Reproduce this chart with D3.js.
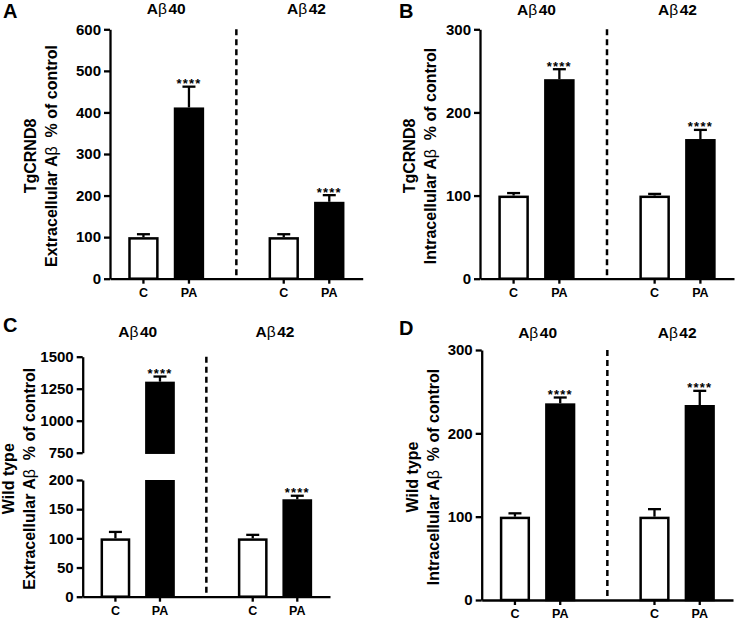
<!DOCTYPE html>
<html>
<head>
<meta charset="utf-8">
<script src="https://cdn.jsdelivr.net/npm/d3@7"></script>
<style>
  body { margin: 0; background: #fff; }
  svg { display: block; font-family: "Liberation Sans", Arial, sans-serif; }
  .tick line, .domain { stroke: #000; stroke-width: 2.3; }
</style>
</head>
<body>
<svg id="chart" width="735" height="623"></svg>
<script>
// Four bar panels (A-D): % of control for C vs PA, Abeta40 and Abeta42.

const groups = ["Aβ40", "Aβ42"];
const conditions = ["C", "PA"];

// means and SEM, order: 40-C, 40-PA, 42-C, 42-PA
const meansA = [100, 412, 100, 185];
const errorsA = [7, 50, 7, 16];
const meansB = [100, 240, 100, 168];
const errorsB = [3, 12, 2, 11];
const meansC = [100, 1305, 100, 167];
const errorsC = [11, 40, 6, 6];
const meansD = [100, 236, 100, 234];
const errorsD = [4, 7, 9, 17];

const ticksA = [0, 100, 200, 300, 400, 500, 600];
const ticksB = [0, 100, 200, 300];
const ticksCLow = [0, 50, 100, 150, 200];
const ticksCHigh = [750, 1000, 1250, 1500];
const ticksD = [0, 100, 200, 300];

const stars = "****";
const FONT = "'Liberation Sans', Arial, sans-serif";

const panels = [
  { letter: "A", means: meansA, errors: errorsA, x0: 110, x1: 362.7,
    segments: [{ domain: [0, 600], range: [278.7, 29.3], ticks: ticksA }],
    line1: "TgCRND8", line2: "Extracellular", labelX: 57, titleY: 14, lx: 3, ly: 18 },
  { letter: "B", means: meansB, errors: errorsB, x0: 480, x1: 734,
    segments: [{ domain: [0, 300], range: [278.7, 29.3], ticks: ticksB }],
    line1: "TgCRND8", line2: "Intracellular", labelX: 436, titleY: 15, lx: 399, ly: 18 },
  { letter: "C", means: meansC, errors: errorsC, x0: 82.7, x1: 330,
    segments: [{ domain: [0, 200], range: [596.7, 480], ticks: ticksCLow },
               { domain: [750, 1500], range: [452.7, 356.7], ticks: ticksCHigh }],
    line1: "Wild type", line2: "Extracellular", labelX: 35, titleY: 337, lx: 3, ly: 332 },
  { letter: "D", means: meansD, errors: errorsD, x0: 481.7, x1: 733,
    segments: [{ domain: [0, 300], range: [600, 350], ticks: ticksD }],
    line1: "Wild type", line2: "Intracellular", labelX: 439, titleY: 338, lx: 399, ly: 335 }
];

const svg = d3.select("#chart");

function styleAxis(a, size) {
  a.attr("font-family", FONT).attr("font-size", size).attr("font-weight", "bold");
  a.selectAll("text").attr("fill", "#000");
}

function drawPanel(p) {
  const g = svg.append("g");
  const segs = p.segments.map(s => Object.assign({}, s,
    { scale: d3.scaleLinear().domain(s.domain).range(s.range) }));
  const yBottom = segs[0].range[0];
  const yTop = segs[segs.length - 1].range[1];

  const outer = d3.scaleBand().domain(groups).range([p.x0, p.x1])
    .paddingInner(0.243).paddingOuter(0.022);
  const inner = d3.scaleBand().domain(conditions).range([0, outer.bandwidth()])
    .padding(0.333);

  const bars = [];
  groups.forEach((grp, gi) => conditions.forEach((c, ci) => {
    const i = gi * 2 + ci;
    bars.push({ grp, c, mean: p.means[i], err: p.errors[i],
      x: outer(grp) + inner(c), fill: c === "C" ? "#fff" : "#000" });
  }));

  // y axes (one per segment)
  segs.forEach(s => {
    g.append("g")
      .attr("transform", `translate(${p.x0},0)`)
      .call(d3.axisLeft(s.scale).tickValues(s.ticks).tickFormat(d3.format("d"))
        .tickSize(6).tickSizeOuter(0).tickPadding(3))
      .call(a => styleAxis(a, 15));
  });

  // dashed separator
  const sepX = (outer(groups[0]) + outer.bandwidth() + outer(groups[1])) / 2;
  g.append("line")
    .attr("x1", sepX).attr("x2", sepX)
    .attr("y1", yTop).attr("y2", yBottom - 3)
    .attr("stroke", "#000").attr("stroke-width", 2.5)
    .attr("stroke-dasharray", "6,4");

  // bars, split over the axis segments
  const bw = inner.bandwidth();
  bars.forEach(b => {
    segs.forEach(s => {
      const lo = Math.max(0, s.domain[0]);
      const hi = Math.min(b.mean, s.domain[1]);
      if (hi <= lo) return;
      const yHi = s.scale(hi), yLo = s.scale(lo);
      g.append("rect")
        .attr("x", b.x + 1.25).attr("width", bw - 2.5)
        .attr("y", yHi + 1.25).attr("height", Math.max(0, yLo - yHi - 1.25))
        .attr("fill", b.fill).attr("stroke", "#000").attr("stroke-width", 2.5);
    });
    // error bar (upper only)
    const s = segs.find(s => b.mean >= s.domain[0] && b.mean <= s.domain[1]) ||
              segs[segs.length - 1];
    const cx = b.x + bw / 2;
    const yM = s.scale(b.mean), yE = s.scale(b.mean + b.err);
    g.append("line").attr("x1", cx).attr("x2", cx).attr("y1", yM).attr("y2", yE)
      .attr("stroke", "#000").attr("stroke-width", 2.3);
    g.append("line").attr("x1", cx - 6.5).attr("x2", cx + 6.5).attr("y1", yE).attr("y2", yE)
      .attr("stroke", "#000").attr("stroke-width", 2.3);
    if (b.c === "PA") {
      g.append("text").attr("x", cx).attr("y", yE + 1.5)
        .attr("text-anchor", "middle")
        .style("font-size", "13px").style("font-weight", "bold")
        .style("letter-spacing", "1.2px")
        .text(stars);
    }
  });

  // x axis line
  g.append("g")
    .attr("transform", `translate(0,${yBottom})`)
    .call(d3.axisBottom(outer).tickValues([]).tickSizeOuter(0));
  // x ticks per group
  groups.forEach(grp => {
    g.append("g")
      .attr("transform", `translate(${outer(grp)},${yBottom})`)
      .call(d3.axisBottom(inner).tickSize(5).tickSizeOuter(0).tickPadding(4))
      .call(a => a.select(".domain").remove())
      .call(a => styleAxis(a, 12.5));
  });

  // group titles
  groups.forEach(grp => {
    const t = g.append("text")
      .attr("x", outer(grp) + outer.bandwidth() / 2).attr("y", p.titleY)
      .attr("text-anchor", "middle")
      .style("font-size", "15.5px").style("font-weight", "bold");
    t.append("tspan").text("A");
    t.append("tspan").style("font-weight", "normal").text("β");
    t.append("tspan").attr("dx", 1.5).text(grp.slice(2));
  });

  // y label
  const lab = g.append("g")
    .attr("transform", `translate(${p.labelX},${(yTop + yBottom) / 2 + 2}) rotate(-90)`)
    .style("font-size", "16px").style("font-weight", "bold")
    .attr("text-anchor", "middle");
  lab.append("text").attr("y", -21).text(p.line1);
  const l2 = lab.append("text").attr("y", 0);
  l2.append("tspan").text(p.line2 + " A");
  l2.append("tspan").style("font-weight", "normal").text("β");
  l2.append("tspan").text("  % of control").attr("xml:space", "preserve");

  // panel letter
  g.append("text").attr("x", p.lx).attr("y", p.ly)
    .style("font-size", "20px").style("font-weight", "bold")
    .text(p.letter);
}

panels.forEach(drawPanel);
</script>
</body>
</html>
